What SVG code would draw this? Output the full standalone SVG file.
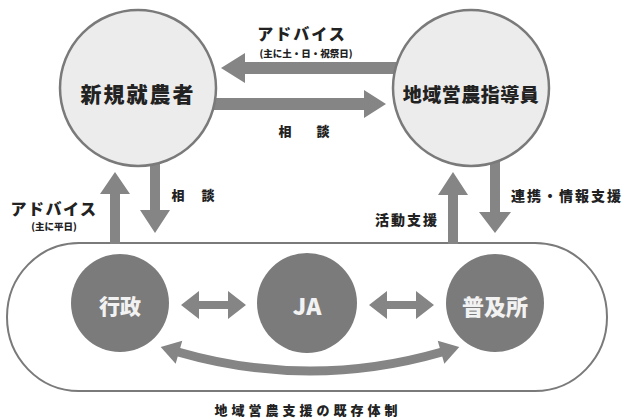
<svg xmlns="http://www.w3.org/2000/svg" width="627" height="420" viewBox="0 0 627 420">
<defs>
<style>
.t{font-family:"Noto Sans CJK JP","Noto Sans",sans-serif;font-weight:900;fill:#222;text-anchor:middle;dominant-baseline:central}
.w{font-family:"Noto Sans CJK JP","Noto Sans",sans-serif;font-weight:900;fill:#f2f2f2;text-anchor:middle;dominant-baseline:central}
.light{fill:#ececec;stroke:#7a7a7a;stroke-width:2.5}
.dark{fill:#7b7b7b}
.arr{fill:#858585}
</style>
<marker id="ah" markerUnits="userSpaceOnUse" markerWidth="20" markerHeight="26" viewBox="0 -13 20 26" refX="1" refY="0" orient="auto-start-reverse" overflow="visible">
<path d="M0,-12 L19,0 L0,12 z" fill="#858585"/>
</marker>
</defs>
<rect width="627" height="420" fill="#fff"/>

<g id="frame">
<rect x="7" y="243" width="600" height="148" rx="72" ry="74" fill="#fff" stroke="#7a7a7a" stroke-width="2"/>
</g>

<g id="connectors">
<polygon class="arr" points="398,62 245,62 245,53 221,68 245,83 245,74 398,74"/>
<polygon class="arr" points="214,98 364,98 364,90 386,104 364,118 364,110 214,110"/>
<polygon class="arr" points="110,244 110,194 100,194 115,172 130,194 120,194 120,244"/>
<polygon class="arr" points="150,160 150,210 140,210 155,233 170,210 160,210 160,160"/>
<polygon class="arr" points="448,244 448,195 438,195 453,172 468,195 458,195 458,244"/>
<polygon class="arr" points="490,160 490,212 479,212 495,233 511,212 500,212 500,160"/>
<polygon class="arr" points="181,305 199,291 199,301 228,301 228,291 246,305 228,319 228,309 199,309 199,319"/>
<polygon class="arr" points="369,305 387,291 387,301 416,301 416,291 434,305 416,319 416,309 387,309 387,319"/>
<path d="M178,352 Q310,390 442,352" fill="none" stroke="#858585" stroke-width="9" marker-start="url(#ah)" marker-end="url(#ah)"/>
</g>

<g id="node-shinki">
<circle class="light" cx="138" cy="88" r="78"/>
<text class="t" x="138" y="93" font-size="21" letter-spacing="2">新規就農者</text>
</g>
<g id="node-shidoin">
<circle class="light" cx="471" cy="88" r="78"/>
<text class="t" x="471" y="93" font-size="19" letter-spacing="0.5">地域営農指導員</text>
</g>
<g id="node-gyosei">
<circle class="dark" cx="120" cy="303" r="49"/>
<text class="w" x="120" y="305" font-size="21">行政</text>
</g>
<g id="node-ja">
<circle class="dark" cx="307" cy="303" r="50"/>
<text class="w" x="307" y="305" font-size="23">JA</text>
</g>
<g id="node-fukyusho">
<circle class="dark" cx="495" cy="303" r="49"/>
<text class="w" x="495" y="305" font-size="22">普及所</text>
</g>

<g id="labels">
<text class="t" x="302" y="33" font-size="16" letter-spacing="2">アドバイス</text>
<text class="t" x="306" y="53" font-size="9.5">(主に土・日・祝祭日)</text>
<text class="t" x="307" y="130" font-size="13" letter-spacing="6">相　談</text>
<text class="t" x="194" y="194" font-size="13" letter-spacing="2">相　談</text>
<text class="t" x="54" y="208" font-size="16" letter-spacing="1.5">アドバイス</text>
<text class="t" x="54" y="226" font-size="9.5">(主に平日)</text>
<text class="t" x="407" y="219" font-size="14" letter-spacing="2">活動支援</text>
<text class="t" x="567" y="195" font-size="14" letter-spacing="2">連携・情報支援</text>
<text class="t" x="308" y="409" font-size="13" letter-spacing="4">地域営農支援の既存体制</text>
</g>
</svg>
